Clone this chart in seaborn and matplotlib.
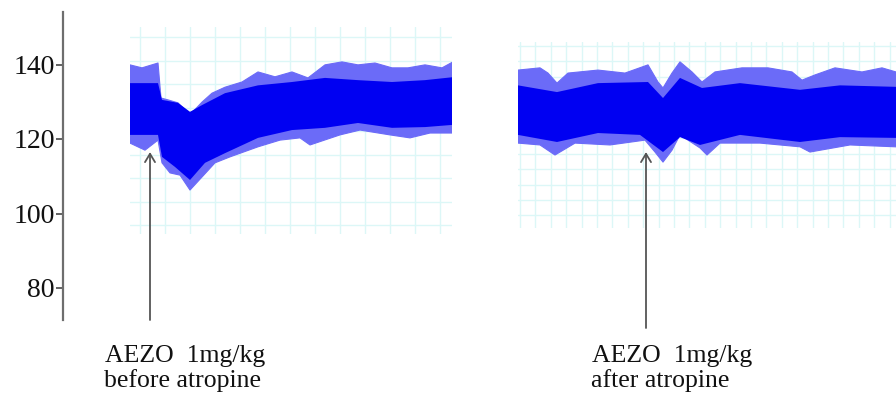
import numpy as np
import matplotlib
matplotlib.use("Agg")
import matplotlib.pyplot as plt
import seaborn as sns

# ---------------- data (mmHg, time in s) ----------------
yticks = [80, 100, 120, 140]

# before atropine
L_up_t = [0, 12, 28, 31, 38, 48, 60, 72, 82, 95, 112, 128, 145, 162, 178, 195, 212, 228, 245, 262, 278, 295, 312, 323]
L_up = [139.9, 139.1, 140.4, 131.0, 130.5, 129.7, 126.5, 129.9, 132.3, 133.9, 135.3, 138.0, 136.7, 138.0, 136.4,
        139.9, 140.7, 139.9, 140.4, 139.1, 139.1, 139.9, 139.1, 140.7]
L_lo_t = [0, 15, 28, 32, 40, 50, 60, 72, 85, 100, 128, 150, 170, 180, 210, 230, 260, 280, 300, 323]
L_lo = [118.9, 117.0, 119.7, 113.6, 110.9, 110.3, 106.3, 109.8, 113.6, 115.2, 117.9, 119.7, 120.3, 118.4, 121.1,
        122.4, 121.1, 120.3, 121.6, 121.6]
L_cup_t = [0, 28, 32, 48, 60, 72, 95, 128, 162, 195, 228, 262, 295, 323]
L_cup = [135.0, 135.0, 130.5, 129.7, 127.3, 129.1, 132.3, 134.4, 135.3, 136.4, 135.8, 135.3, 135.8, 136.6]
L_clo_t = [0, 28, 32, 45, 60, 75, 95, 128, 162, 195, 228, 262, 295, 323]
L_clo = [121.1, 121.1, 115.2, 112.5, 109.0, 113.6, 116.2, 120.3, 122.4, 123.0, 124.3, 123.0, 123.2, 123.8]
L_dose_t = 20
L_dose_v = 116.5

# after atropine
R_up_t = [0, 22, 30, 39, 50, 80, 107, 130, 140, 145, 154, 162, 174, 184, 197, 224, 250, 274, 284, 297, 317, 344, 364, 378]
R_up = [138.5, 139.1, 137.7, 135.0, 137.7, 138.5, 137.7, 139.9, 135.3, 133.7, 137.7, 140.7, 138.0, 135.3, 138.0,
        139.1, 139.1, 138.0, 135.8, 137.2, 139.1, 138.0, 139.1, 138.0]
R_lo_t = [0, 22, 37, 57, 92, 127, 137, 145, 154, 162, 182, 189, 202, 242, 282, 292, 332, 378]
R_lo = [118.9, 118.4, 115.7, 118.9, 118.4, 119.7, 116.5, 113.8, 117.0, 121.1, 117.6, 115.7, 118.9, 118.9, 117.9,
        116.5, 118.4, 117.9]
R_cup_t = [0, 39, 80, 130, 145, 162, 184, 222, 282, 322, 378]
R_cup = [134.4, 132.6, 135.0, 135.3, 131.0, 136.4, 133.7, 135.0, 133.2, 134.4, 134.0]
R_clo_t = [0, 39, 80, 122, 145, 162, 182, 222, 282, 322, 378]
R_clo = [121.1, 119.2, 121.6, 121.1, 116.5, 120.5, 118.4, 121.1, 119.2, 120.5, 120.3]
R_dose_t = 128
R_dose_v = 116.5

label_top = "AEZO  1mg/kg"
label_left = "before atropine"
label_right = "after atropine"

# ---------------- style ----------------
sns.set_theme(style="white")
plt.rcParams["font.family"] = ["Liberation Serif", "DejaVu Serif"]

W, H = 896, 394
fig = plt.figure(figsize=(W / 100, H / 100), dpi=100)


def px_to_v(y):
    return 110 + (176.25 - y) / 3.725


def rect(x0, y0, x1, y1):
    return [x0 / W, 1 - y1 / H, (x1 - x0) / W, (y1 - y0) / H]


# main axis (scale only)
ax = fig.add_axes(rect(63, 12, 896, 320))
ax.set_ylim(px_to_v(320), px_to_v(12))
ax.set_xlim(0, 1)
ax.set_yticks(yticks)
ax.set_yticklabels([str(v) for v in yticks], fontsize=20, color="#111111")
ax.set_xticks([])
for s in ["top", "right", "bottom"]:
    ax.spines[s].set_visible(False)
ax.spines["left"].set_color("#6e6e6e")
ax.spines["left"].set_linewidth(1.6)
ax.tick_params(axis="y", direction="out", length=5, width=1.3, color="#555555", pad=1, left=True)
ax.patch.set_alpha(0)

CORE = "#0000f2"
FRINGE = "#6b6bf8"
GRID = "#dcf7f7"


def panel(box, tmax, vgrid_px, hgrid_px, up_t, up, lo_t, lo, cu_t, cu, cl_t, cl):
    x0, y0, x1, y1 = box
    pax = fig.add_axes(rect(x0, y0, x1, y1))
    pax.set_xlim(0, tmax)
    pax.set_ylim(px_to_v(y1), px_to_v(y0))
    pax.axis("off")
    scale = tmax / (x1 - x0)
    for xp in vgrid_px:
        pax.axvline((xp - x0) * scale, color=GRID, lw=1.0, zorder=0)
    for yp in hgrid_px:
        pax.axhline(px_to_v(yp), color=GRID, lw=1.0, zorder=0)
    pax.fill(np.r_[up_t, lo_t[::-1]], np.r_[up, lo[::-1]], color=FRINGE, lw=0, zorder=2)
    sns.lineplot(x=up_t, y=up, ax=pax, color=FRINGE, lw=0.8, zorder=2, sort=False)
    sns.lineplot(x=lo_t, y=lo, ax=pax, color=FRINGE, lw=0.8, zorder=2, sort=False)
    pax.fill(np.r_[cu_t, cl_t[::-1]], np.r_[cu, cl[::-1]], color=CORE, lw=0, zorder=3)
    return pax


lax = panel((130, 27, 452, 234), 322,
            np.arange(140, 452, 25), np.arange(37, 234, 23.5),
            L_up_t, L_up, L_lo_t, L_lo, L_cup_t, L_cup, L_clo_t, L_clo)
rax = panel((518, 42, 896, 228), 378,
            np.arange(520, 896, 15.4), np.arange(46, 228, 15.4),
            R_up_t, R_up, R_lo_t, R_lo, R_cup_t, R_cup, R_clo_t, R_clo)

arrow = dict(arrowstyle="->,head_length=0.5,head_width=0.3", color="#555555", lw=1.3, shrinkA=0, shrinkB=0)
lax.annotate("", xy=(L_dose_t, L_dose_v), xytext=(150, H - 320), textcoords="figure pixels",
             arrowprops=arrow, annotation_clip=False)
rax.annotate("", xy=(R_dose_t, R_dose_v), xytext=(646, H - 328), textcoords="figure pixels",
             arrowprops=arrow, annotation_clip=False)

tk = dict(fontsize=18.5, color="#111111", va="baseline", ha="left")
fig.text(105 / W, 1 - 362 / H, label_top, **tk)
fig.text(104 / W, 1 - 387 / H, label_left, **tk)
fig.text(592 / W, 1 - 362 / H, label_top, **tk)
fig.text(591 / W, 1 - 387 / H, label_right, **tk)

fig.savefig("out.png", dpi=100)
